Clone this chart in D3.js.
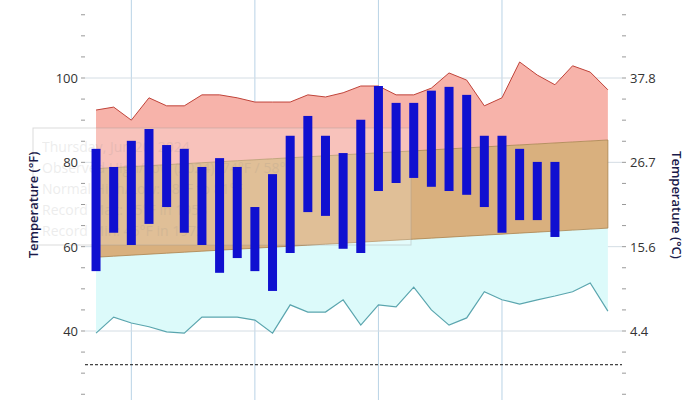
<!DOCTYPE html>
<html>
<head>
<meta charset="utf-8">
<script src="https://cdn.jsdelivr.net/npm/d3@7"></script>
<style>
  body { margin: 0; background: #fff; }
  text { font-family: "Open Sans", sans-serif; }
</style>
</head>
<body>
<svg id="chart" width="700" height="400"></svg>
<script>
// record high per day (°F)
const recordHigh = [92.4, 93.1, 90.0, 95.3, 93.4, 93.4, 96.0, 96.0, 95.3, 94.3,
  94.3, 94.3, 96.0, 95.5, 96.5, 98.1, 98.1, 96.0, 96.0, 97.6,
  101.2, 99.5, 93.4, 95.3, 103.8, 100.7, 98.4, 102.9, 101.4, 97.2];
// record low per day (°F)
const recordLow = [39.5, 43.3, 41.9, 41.0, 39.8, 39.5, 43.3, 43.3, 43.3, 42.6,
  39.5, 46.2, 44.5, 44.5, 47.4, 41.4, 46.2, 45.7, 50.4, 45.0,
  41.4, 43.1, 49.3, 47.4, 46.4, 47.4, 48.3, 49.3, 51.4, 44.7];
// normal range, first and last day
const normalHighEnds = [78.5, 85.3];
const normalLowEnds = [57.5, 64.4];
// observed daily highs / lows
const obsHigh = [83.2, 78.9, 85.1, 87.9, 84.1, 83.2, 78.9, 81.0, 78.9, 69.4,
  77.2, 86.3, 91.0, 86.3, 82.2, 90.1, 98.1, 94.1, 94.1, 97.0,
  97.9, 96.0, 86.3, 86.3, 83.2, 80.1, 80.1];
const obsLow = [54.2, 63.3, 60.4, 65.4, 69.4, 63.3, 60.4, 53.8, 57.3, 54.2,
  49.5, 58.5, 68.2, 67.3, 59.5, 58.5, 73.2, 75.1, 76.3, 74.2,
  73.2, 72.3, 69.4, 63.3, 66.3, 66.3, 62.3];
const fTicks = [40, 60, 80, 100];
const weekLines = [2, 9, 16, 23];
const tipLines = ["Thursday, Jun 20, 2024", "Observed High/Low (2024): 74°F / 58°F",
  "Normal High/Low: 58°F to 81°F", "Record Max: 95°F in 1953", "Record Min: 45°F in 1972"];

const svg = d3.select("#chart");
const x = d3.scaleLinear().domain([-0.625, 29.8]).range([85, 622]);
const y = d3.scaleLinear().domain([40, 100]).range([331, 78]);
const days = d3.range(recordHigh.length);
const normal = days.map(i => {
  const t = i / (days.length - 1);
  return { i, hi: normalHighEnds[0] + t * (normalHighEnds[1] - normalHighEnds[0]),
    lo: normalLowEnds[0] + t * (normalLowEnds[1] - normalLowEnds[0]) };
});

// grid
svg.selectAll(".vgrid").data(weekLines).enter().append("line")
  .attr("x1", d => x(d)).attr("x2", d => x(d)).attr("y1", 0).attr("y2", 400)
  .attr("stroke", "#b9d3e6").attr("stroke-width", 1);
svg.selectAll(".hgrid").data(fTicks).enter().append("line")
  .attr("x1", 85).attr("x2", 622).attr("y1", d => y(d)).attr("y2", d => y(d))
  .attr("stroke", "#d4dde4");

// record high area (top of normal to record high)
svg.append("path").datum(days)
  .attr("fill", "#f7b3aa").attr("stroke", "none")
  .attr("d", d3.area().x(i => x(i)).y0(i => y(normal[i].hi)).y1(i => y(recordHigh[i])));
svg.append("path").datum(days).attr("fill", "none").attr("stroke", "#c0443a").attr("stroke-width", 1)
  .attr("d", d3.line().x(i => x(i)).y(i => y(recordHigh[i])));

// record low area
svg.append("path").datum(days)
  .attr("fill", "#dcfafa")
  .attr("d", d3.area().x(i => x(i)).y0(i => y(recordLow[i])).y1(i => y(normal[i].lo)));
svg.append("path").datum(days).attr("fill", "none").attr("stroke", "#5aa5ae").attr("stroke-width", 1.2)
  .attr("d", d3.line().x(i => x(i)).y(i => y(recordLow[i])));

// normal range
svg.append("path").datum(normal)
  .attr("fill", "#d9b07e").attr("stroke", "#a8834e").attr("stroke-width", 0.8)
  .attr("d", d3.area().x(d => x(d.i)).y0(d => y(d.lo)).y1(d => y(d.hi)));

// freezing line
svg.append("line").attr("x1", 85).attr("x2", 622).attr("y1", y(32)).attr("y2", y(32))
  .attr("stroke", "#111").attr("stroke-dasharray", "3,2");

// faded tooltip
const tip = svg.append("g");
tip.append("rect").attr("x", 33).attr("y", 128).attr("width", 378).attr("height", 117)
  .attr("fill", "#fff").attr("fill-opacity", 0.2).attr("stroke", "#999").attr("stroke-opacity", 0.35);
tip.selectAll("text").data(tipLines).enter().append("text")
  .attr("x", 42).attr("y", (d, i) => 152 + i * 21).attr("font-size", 14)
  .attr("fill", "#888").attr("opacity", 0.15).text(d => d);

// observed bars
svg.selectAll(".bar").data(obsHigh).enter().append("rect")
  .attr("class", "bar")
  .attr("x", (d, i) => x(i) - 4.5).attr("width", 9)
  .attr("y", d => y(d)).attr("height", (d, i) => y(obsLow[i]) - y(d))
  .attr("fill", "#1010d0");

// axes
const minor = d3.range(25, 121, 5);
svg.selectAll(".lt").data(minor).enter().append("line")
  .attr("x1", 81).attr("x2", 85).attr("y1", d => y(d)).attr("y2", d => y(d)).attr("stroke", "#999");
svg.selectAll(".rt").data(minor).enter().append("line")
  .attr("x1", 622).attr("x2", 626).attr("y1", d => y(d)).attr("y2", d => y(d)).attr("stroke", "#999");
svg.selectAll(".ll").data(fTicks).enter().append("text")
  .attr("x", 78).attr("y", d => y(d) + 5).attr("text-anchor", "end")
  .attr("font-size", 13).attr("fill", "#333").text(d => d);
svg.selectAll(".rl").data(fTicks).enter().append("text")
  .attr("x", 630).attr("y", d => y(d) + 5).attr("font-size", 13).attr("fill", "#333")
  .text(d => ((d - 32) * 5 / 9).toFixed(1));
svg.append("text").attr("transform", "translate(38,205) rotate(-90)")
  .attr("text-anchor", "middle").attr("font-size", 13).attr("font-weight", 600).attr("fill", "#1a1a4a")
  .text("Temperature (°F)");
svg.append("text").attr("transform", "translate(672,205) rotate(90)")
  .attr("text-anchor", "middle").attr("font-size", 13).attr("font-weight", 600).attr("fill", "#1a1a4a")
  .text("Temperature (°C)");
</script>
</body>
</html>
